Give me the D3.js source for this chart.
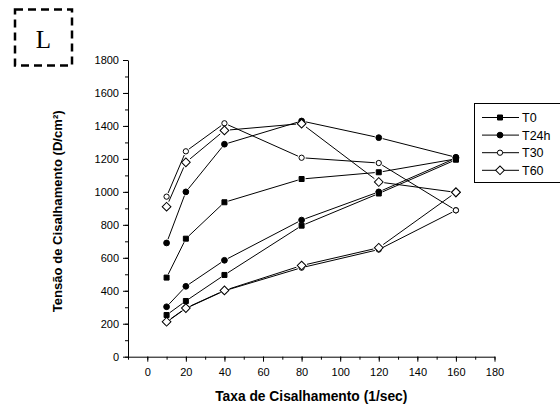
<!DOCTYPE html>
<html>
<head>
<style>
  body { margin: 0; background: white; }
</style>
</head>
<body>
<div id="chart"></div>
<script src="https://cdn.jsdelivr.net/npm/d3@7"></script>
<script>
// taxa de cisalhamento (ida e volta)
let shear = [10, 20, 40, 80, 120, 160, 160, 120, 80, 40, 20, 10];
let t0   = [480, 716, 937, 1078, 1119, 1200, 1195, 990, 795, 496, 338, 253];
let t24h = [690, 1000, 1289, 1430, 1329, 1210, 1205, 1000, 829, 585, 427, 303];
let t30  = [971, 1246, 1416, 1207, 1175, 888, 888, 650, 540, 400, 293, 210];
let t60  = [910, 1179, 1373, 1414, 1060, 997, 997, 661, 553, 402, 295, 212];
let seriesNames = ['T0', 'T24h', 'T30', 'T60'];
let xTicks = [0, 20, 40, 60, 80, 100, 120, 140, 160, 180];
let yTicks = [0, 200, 400, 600, 800, 1000, 1200, 1400, 1600, 1800];

let SANS = '"Liberation Sans", Arial, sans-serif';
let W = 560, H = 405;
let svg = d3.select('#chart').append('svg').attr('width', W).attr('height', H);

let x = d3.scaleLinear().domain([-10, 180]).range([128, 494.5]);
let y = d3.scaleLinear().domain([0, 1800]).range([356.7, 60]);

// marcadores (losango = quadrado girado 45 graus)
let markers = {
    'T0':   {type: d3.symbolSquare, size: 25, fill: 'black', gap: 4, rot: 0},
    'T24h': {type: d3.symbolCircle, size: 26, fill: 'black', gap: 4, rot: 0},
    'T30':  {type: d3.symbolCircle, size: 22, fill: 'white', gap: 4, rot: 0},
    'T60':  {type: d3.symbolSquare, size: 38, fill: 'white', gap: 5.5, rot: 45}
};

// eixos
let xMinor = d3.range(-10, 181, 10);
let yMinor = d3.range(0, 1801, 100);

let gx = svg.append('g').attr('transform', `translate(0, ${y(0)})`);
gx.call(d3.axisBottom(x).tickValues(xTicks).tickFormat(d3.format('d')).tickSize(5).tickSizeOuter(0).tickPadding(6.5));
gx.append('g').call(d3.axisBottom(x).tickValues(xMinor).tickSize(3).tickFormat('').tickSizeOuter(0))
    .select('.domain').remove();

let gy = svg.append('g').attr('transform', `translate(${x(-10)}, 0)`);
gy.call(d3.axisLeft(y).tickValues(yTicks).tickFormat(d3.format('d')).tickSize(5).tickSizeOuter(0).tickPadding(4));
gy.append('g').call(d3.axisLeft(y).tickValues(yMinor).tickSize(3).tickFormat('').tickSizeOuter(0))
    .select('.domain').remove();

svg.selectAll('.tick text').attr('font-size', 11).attr('font-family', SANS).attr('fill', 'black');
svg.selectAll('.domain, .tick line').attr('stroke', 'black').attr('stroke-width', 1);

// titulos
svg.append('text')
    .attr('x', (x(-10) + x(180)) / 2).attr('y', 400.5)
    .attr('text-anchor', 'middle').attr('font-family', SANS)
    .attr('font-size', 13.8).attr('font-weight', 'bold')
    .text('Taxa de Cisalhamento (1/sec)');

svg.append('text')
    .attr('transform', `translate(61.5, ${(y(0) + y(1800)) / 2 + 3}) rotate(-90)`)
    .attr('text-anchor', 'middle').attr('font-family', SANS)
    .attr('font-size', 13.1).attr('font-weight', 'bold')
    .text('Tensão de Cisalhamento (D/cm²)');

function marker(sel, m) {
    sel.attr('d', d3.symbol().type(m.type).size(m.size))
        .attr('fill', m.fill).attr('stroke', 'black').attr('stroke-width', 1);
}

// series
let allSeries = [t0, t24h, t30, t60];
allSeries.forEach((vals, si) => {
    let m = markers[seriesNames[si]];
    let pts = vals.map((v, i) => [x(shear[i]), y(v)]);
    let g = svg.append('g');
    for (let i = 0; i < pts.length - 1; i++) {
        let [x1, y1] = pts[i], [x2, y2] = pts[i + 1];
        let len = Math.hypot(x2 - x1, y2 - y1);
        if (len < m.gap * 2 + 1) continue;
        let ux = (x2 - x1) / len, uy = (y2 - y1) / len;
        g.append('line')
            .attr('x1', x1 + ux * m.gap).attr('y1', y1 + uy * m.gap)
            .attr('x2', x2 - ux * m.gap).attr('y2', y2 - uy * m.gap)
            .attr('stroke', 'black').attr('stroke-width', 1);
    }
    g.selectAll('path.mk').data(pts).join('path')
        .attr('class', 'mk')
        .attr('transform', d => `translate(${d[0]}, ${d[1]}) rotate(${m.rot})`)
        .call(marker, m);
});

// legenda
let leg = svg.append('g');
leg.append('rect').attr('x', 474.5).attr('y', 103.5).attr('width', 90).attr('height', 79)
    .attr('fill', 'white').attr('stroke', 'black').attr('stroke-width', 1);
seriesNames.forEach((name, i) => {
    let m = markers[name];
    let ly = 117.5 + i * 17.6;
    leg.append('line').attr('x1', 482).attr('x2', 519).attr('y1', ly).attr('y2', ly)
        .attr('stroke', 'black').attr('stroke-width', 1);
    leg.append('path').attr('transform', `translate(500, ${ly}) rotate(${m.rot})`)
        .call(marker, m);
    leg.append('text').attr('x', 522).attr('y', ly + 4.5).attr('font-family', SANS)
        .attr('font-size', 12.5).text(name);
});

// rotulo L
svg.append('rect').attr('x', 15).attr('y', 9.5).attr('width', 57).attr('height', 56)
    .attr('fill', 'none').attr('stroke', 'black').attr('stroke-width', 2.5)
    .attr('stroke-dasharray', '8,5');
svg.append('text').attr('x', 43.5).attr('y', 48).attr('text-anchor', 'middle')
    .attr('font-family', '"Liberation Serif", "Times New Roman", serif')
    .attr('font-size', 25).text('L');
</script>
</body>
</html>
